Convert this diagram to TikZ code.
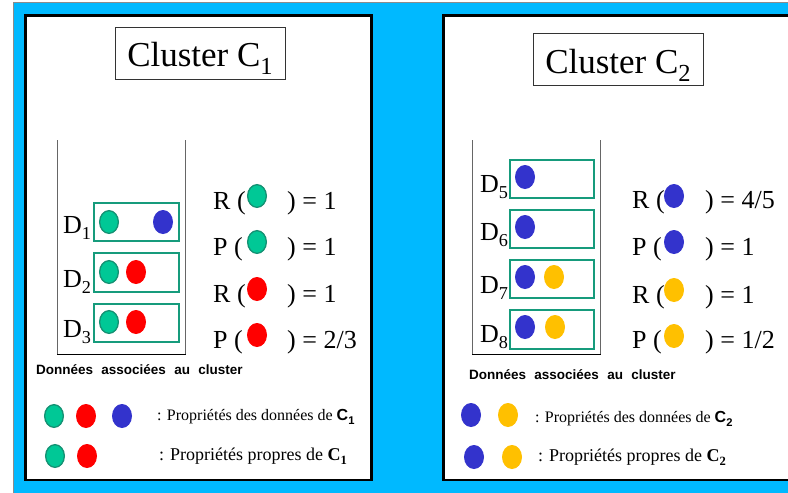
\documentclass[tikz,border=0pt]{standalone}
\usepackage{fontspec}
\setmainfont{Liberation Serif}
\setsansfont{Liberation Sans}
\usetikzlibrary{shapes.geometric}
\definecolor{bgblue}{RGB}{0,185,255}
\definecolor{dgreen}{RGB}{0,200,150}
\definecolor{dgreenb}{RGB}{20,145,115}
\definecolor{boxgreen}{RGB}{22,155,124}
\definecolor{dblue}{RGB}{51,51,204}
\definecolor{dred}{RGB}{255,0,0}
\definecolor{dyellow}{RGB}{255,192,0}
\newcommand\psub[1]{\raisebox{-0.25em}{\scalebox{0.7}{#1}}}
\newcommand\fsz[1]{\fontsize{#1}{#1}\selectfont}
\begin{document}
\begin{tikzpicture}[x=1pt,y=-1pt,
  dot/.style={ellipse,minimum width=20pt,minimum height=24pt,inner sep=0pt},
  gdot/.style={dot,fill=dgreen,draw=dgreenb,line width=1.3pt,minimum width=18.7pt,minimum height=22.7pt},
  rdot/.style={dot,fill=dred},
  bdot/.style={dot,fill=dblue},
  ydot/.style={dot,fill=dyellow},
  panel/.style={draw=black,line width=2.5pt,fill=white},
  databox/.style={draw=boxgreen,line width=1.5pt,inner sep=0pt,anchor=north west},
  title/.style={draw=black!80,line width=0.8pt,inner sep=0pt,minimum width=170pt,anchor=base,font=\fsz{35}},
  dlab/.style={anchor=base west,inner sep=0pt,font=\fsz{26}},
  rp/.style={anchor=base west,inner sep=0pt,font=\fsz{26}},
  assoc/.style={anchor=base west,inner sep=0pt,font=\sffamily\bfseries\fsz{13.5}},
  leg/.style={anchor=base west,inner sep=0pt},
  bin/.style={draw=black!60,line width=1pt}
]
\useasboundingbox (0,0) rectangle (788,493);
\fill[white] (0,0) rectangle (788,493);
\fill[bgblue] (13,3) rectangle (788,493);
\draw[black!45,line width=1pt] (13,493) -- (13,2.5) -- (788,2.5);

% ---------------- Left panel ----------------
\draw[panel] (25.5,15.5) rectangle (371.5,480);
\node[title,text height=39pt,text depth=13pt] (t1) at (200,66) {Cluster C\psub{1}};

\draw[bin] (57,140) -- (57,354);
\draw[bin] (185,140) -- (185,354);
\draw[black,line width=1pt] (57,354) -- (186,354);

\node[databox,minimum width=85pt,minimum height=38pt] (b1) at (93,202) {};
\node[databox,minimum width=85pt,minimum height=39pt] (b2) at (93,252) {};
\node[databox,minimum width=85pt,minimum height=38pt] (b3) at (93,303) {};
\node[dlab] (d1) at (63,233) {D\psub{1}};
\node[dlab] (d2) at (63,287) {D\psub{2}};
\node[dlab] (d3) at (63,337) {D\psub{3}};
\node[gdot] (b1g) at (109,222) {};
\node[bdot] (b1b) at (163,222) {};
\node[gdot] (b2g) at (109,272) {};
\node[rdot] (b2r) at (136,272) {};
\node[gdot] (b3g) at (109,322) {};
\node[rdot] (b3r) at (136,322) {};

\node[rp] (r1a) at (213,209) {R (};
\node[gdot] (r1d) at (257,196) {};
\node[rp] (r1b) at (287,209) {) = 1};
\node[rp] (p1a) at (213,255) {P (};
\node[gdot] (p1d) at (257,242) {};
\node[rp] (p1b) at (287,255) {) = 1};
\node[rp] (r2a) at (213,302) {R (};
\node[rdot] (r2d) at (257,289) {};
\node[rp] (r2b) at (287,302) {) = 1};
\node[rp] (p2a) at (213,348) {P (};
\node[rdot] (p2d) at (257,335) {};
\node[rp] (p2b) at (287,348) {) = 2/3};

\node[assoc] (as1) at (36,374) {Données\hspace{4.5pt} associées\hspace{4.5pt} au\hspace{4.5pt} cluster};

\node[gdot] (l1a) at (54,416) {};
\node[rdot] (l1b) at (86,416) {};
\node[bdot] (l1c) at (122,416) {};
\node[gdot] (l2a) at (55,456) {};
\node[rdot] (l2b) at (87,456) {};
\node[leg,font=\fsz{16}] (lt1) at (157,420) {: Propriétés des données de {\sffamily\bfseries C\psub{1}}};
\node[leg,font=\fsz{18}] (lt2) at (159,460) {: Propriétés propres de {\bfseries C\psub{1}}};

% ---------------- Right panel ----------------
\draw[panel] (443.5,15.5) rectangle (800,480);
\node[title,text height=40pt,text depth=12pt] (t2) at (618,73) {Cluster C\psub{2}};

\draw[bin] (472,140) -- (472,354);
\draw[bin] (600,140) -- (600,354);
\draw[black,line width=1pt] (472,354) -- (601,354);

\node[databox,minimum width=84pt,minimum height=38pt] (b5) at (509,159) {};
\node[databox,minimum width=84pt,minimum height=38pt] (b6) at (509,209) {};
\node[databox,minimum width=84pt,minimum height=38pt] (b7) at (509,259) {};
\node[databox,minimum width=84pt,minimum height=39pt] (b8) at (509,309) {};
\node[dlab] (d5) at (480,192) {D\psub{5}};
\node[dlab] (d6) at (480,240) {D\psub{6}};
\node[dlab] (d7) at (480,293) {D\psub{7}};
\node[dlab] (d8) at (480,342) {D\psub{8}};
\node[bdot] (b5b) at (525,177) {};
\node[bdot] (b6b) at (525,227) {};
\node[bdot] (b7b) at (525,277) {};
\node[ydot] (b7y) at (554,277) {};
\node[bdot] (b8b) at (525,327) {};
\node[ydot] (b8y) at (555,327) {};

\node[rp] (r3a) at (632,208) {R (};
\node[bdot] (r3d) at (674,196) {};
\node[rp] (r3b) at (705,208) {) = 4/5};
\node[rp] (p3a) at (632,255) {P (};
\node[bdot] (p3d) at (674,242) {};
\node[rp] (p3b) at (705,255) {) = 1};
\node[rp] (r4a) at (632,303) {R (};
\node[ydot] (r4d) at (674,290) {};
\node[rp] (r4b) at (705,303) {) = 1};
\node[rp] (p4a) at (632,348) {P (};
\node[ydot] (p4d) at (674,336) {};
\node[rp] (p4b) at (705,348) {) = 1/2};

\node[assoc] (as2) at (469,379) {Données\hspace{4.5pt} associées\hspace{4.5pt} au\hspace{4.5pt} cluster};

\node[bdot] (l3a) at (471,415) {};
\node[ydot] (l3b) at (508,415) {};
\node[bdot] (l4a) at (474,457) {};
\node[ydot] (l4b) at (512,457) {};
\node[leg,font=\fsz{16}] (lt3) at (535,422) {: Propriétés des données de {\sffamily\bfseries C\psub{2}}};
\node[leg,font=\fsz{18}] (lt4) at (538,461) {: Propriétés propres de {\bfseries C\psub{2}}};
\end{tikzpicture}
\end{document}
